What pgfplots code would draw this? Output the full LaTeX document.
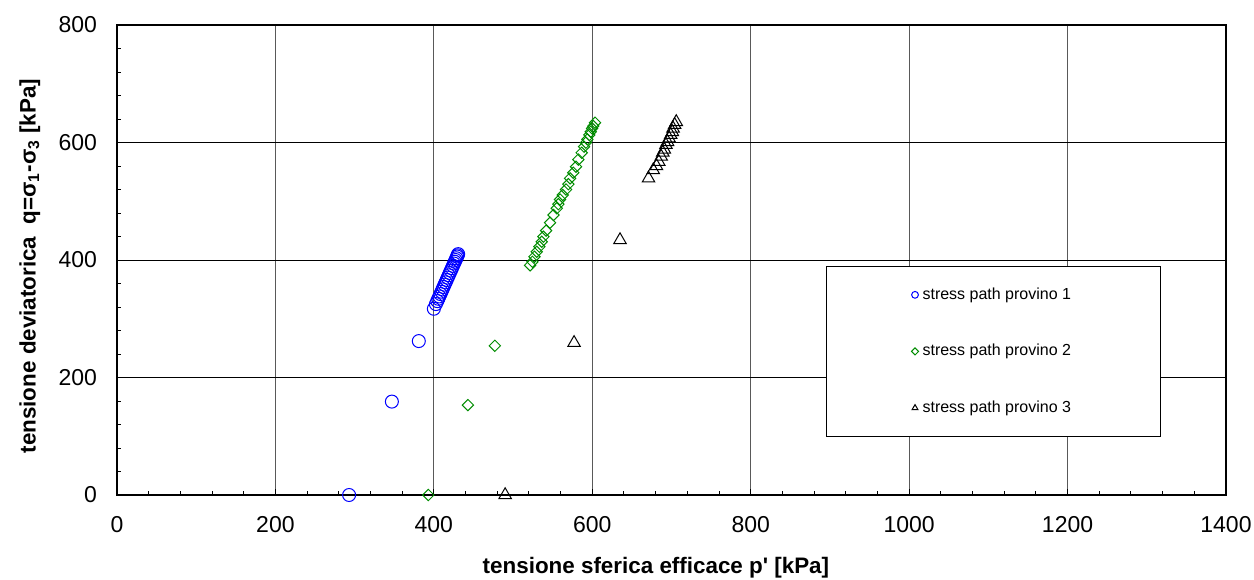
\documentclass[border=0pt]{standalone}
\usepackage{fontspec}
\setmainfont{Liberation Sans}
\usepackage{pgfplots}
\pgfplotsset{compat=1.18}
\begin{document}
\begin{tikzpicture}
\begin{axis}[
  scale only axis, width=554.5pt, height=235pt,
  xmin=0, xmax=1400, ymin=0, ymax=800,
  xtick={0,200,...,1400}, ytick={0,200,...,800},
  minor x tick num=4, minor y tick num=4,
  tick align=inside, xtick pos=left, ytick pos=left,
  major tick length=3pt, minor tick length=2pt,
  tick style={black, line width=0.5pt},
  grid=major,
  major x grid style={black!65, line width=0.5pt},
  major y grid style={black, line width=0.5pt},
  axis line style={line width=1pt},
  clip=false,
  /pgf/number format/assume math mode=true,
  /pgf/number format/1000 sep={},
  ticklabel style={font=\fontsize{11.5}{13}\selectfont},
  xticklabel style={yshift=-7pt},
  yticklabel style={xshift=-6.5pt},
  xlabel={\textbf{tensione sferica efficace p\textquotesingle{} [kPa]}},
  ylabel={\textbf{tensione deviatorica \ q=σ\textsubscript{1}-σ\textsubscript{3} [kPa]}},
  label style={font=\fontsize{11.2}{13}\selectfont},
  xlabel style={at={(axis description cs:0.486,0)}, anchor=center, yshift=-36.5pt},
  ylabel style={at={(axis description cs:-0.0785,0.487)}, anchor=center},
  legend style={at={(rel axis cs:0.6393,0.4872)}, anchor=north west,
    draw=black, line width=0.5pt, inner xsep=42.5pt, inner ysep=8.5pt,
    row sep=17pt, font=\fontsize{8}{9}\selectfont},
  legend cell align=left,
  legend image code/.code={\draw[mark size=1.7pt] plot coordinates {(0.3cm,0cm)};},
]
% provino 1
\addplot[only marks, mark=o, mark size=3.25pt, color=blue, line width=0.5pt]
coordinates {
(293,0) (347,159) (381,262) (400,317) (402.6,325) (404.3,330) (405.6,334)
(406.9,338) (408.3,342) (409.6,346) (410.9,350) (412.2,354) (413.5,358)
(414.9,362) (416.2,366) (417.5,370) (418.8,374) (420.1,378) (421.5,382)
(422.8,386) (424.1,390) (425.4,394) (426.4,397) (427.4,400) (428.4,403)
(429.4,406) (430.0,408) (430.7,410)
};
\addlegendentry{stress path provino 1}
% provino 2
\addplot[only marks, mark=square, mark options={rotate=45}, mark size=2.0pt,
  color=green!55!black, line width=0.5pt,
  legend image code/.code={\draw[mark size=1.25pt] plot coordinates {(0.3cm,0cm)};}]
coordinates {
(393,0) (443,153) (477,254)
(521.5,391) (524.4,397) (527,405.6) (529.9,414) (533.2,422.6) (536.2,431)
(538.3,439.7) (541.7,450) (546.7,463.5) (551,476.6) (555.2,488) (557.2,495)
(559.3,503) (562.7,510.6) (566.9,520) (569.8,529) (572,539) (576,548.6)
(579.5,558.8) (582.4,571) (586.6,582.6) (589.6,592.9) (592,599.7) (593.8,605.4)
(596.3,612.8) (598,618.4) (599.7,624) (601.3,628) (603.5,633.7)
};
\addlegendentry{stress path provino 2}
% provino 3
\addplot[only marks, mark=triangle, mark size=3.6pt, color=black, line width=0.5pt]
coordinates {
(490,0) (577,259) (635,434)
(671,539) (677,553) (681,560) (684,567) (687,576) (689,583) (691,588)
(693,596) (695,601) (697,607) (699,613) (701,618) (702,624) (704,630)
(706,635)
};
\addlegendentry{stress path provino 3}
\end{axis}
\pgfresetboundingbox
\path[use as bounding box] (-58.5pt,-42pt) rectangle (568.5pt,247.5pt);
\end{tikzpicture}
\end{document}
